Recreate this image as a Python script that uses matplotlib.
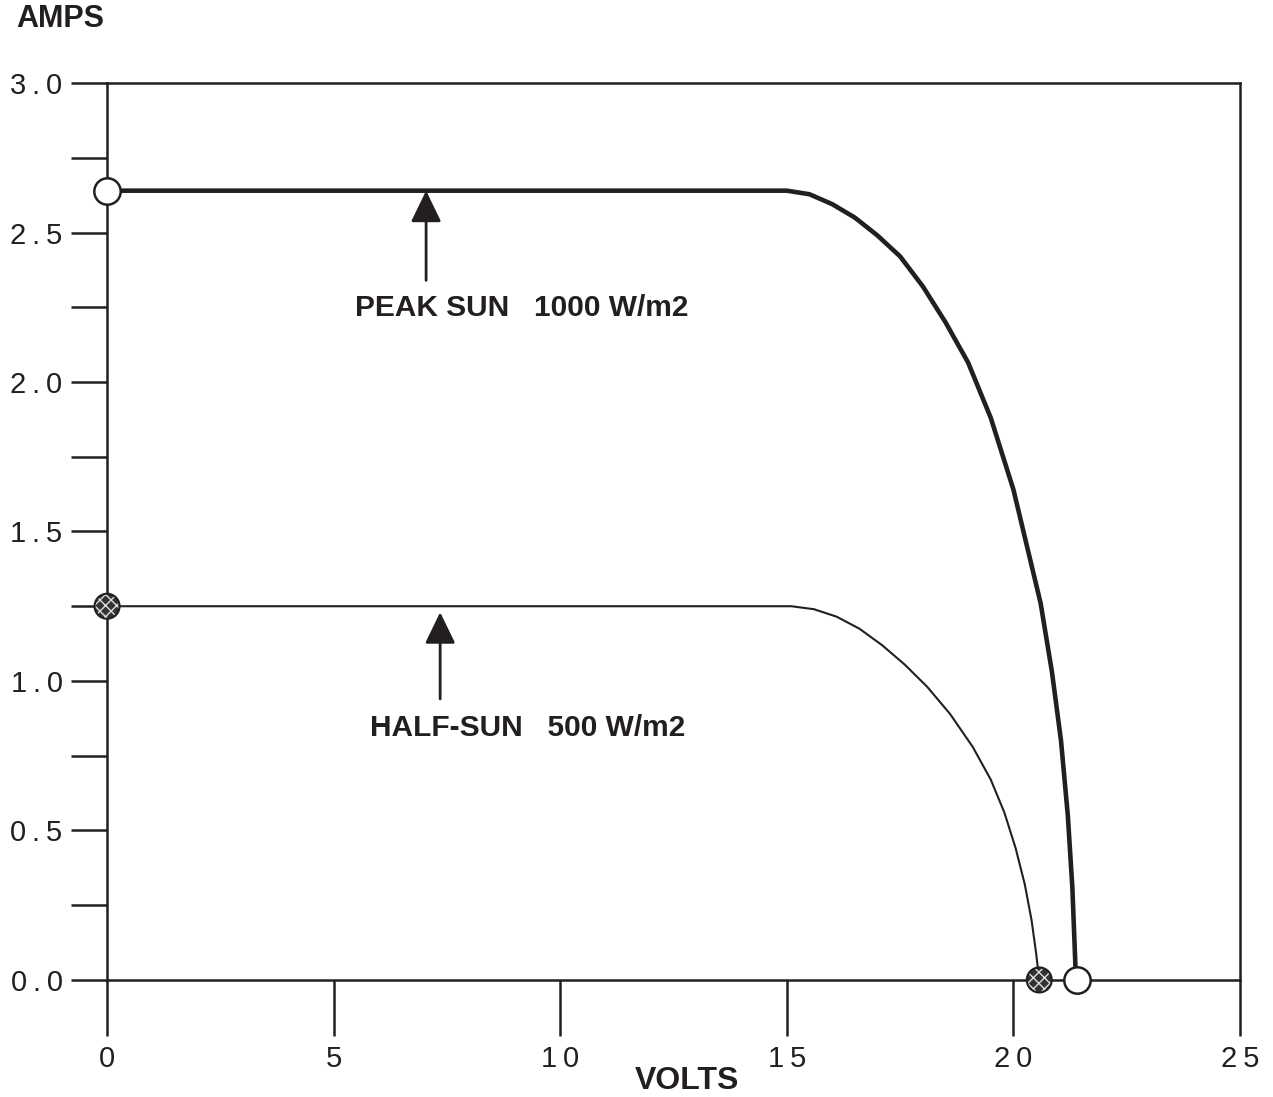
import matplotlib
matplotlib.use("Agg")
import matplotlib.pyplot as plt
import numpy as np

plt.rcParams['font.family'] = ['Liberation Sans', 'DejaVu Sans']

ink = "#231f20"

# I-V curve readings (volts, amps)
peak_v = [0, 15.0, 15.5, 16.0, 16.5, 17.0, 17.5, 18.0, 18.5, 19.0, 19.5, 20.0, 20.3, 20.6,
          20.85, 21.05, 21.2, 21.3, 21.38]
peak_i = [2.64, 2.64, 2.628, 2.595, 2.55, 2.49, 2.42, 2.32, 2.20, 2.065, 1.88, 1.64, 1.45, 1.26,
          1.03, 0.80, 0.55, 0.31, 0.0]

half_v = [0, 15.1, 15.6, 16.1, 16.6, 17.1, 17.6, 18.1, 18.6, 19.1, 19.5, 19.8, 20.05, 20.25,
          20.4, 20.5, 20.57]
half_i = [1.25, 1.25, 1.24, 1.215, 1.175, 1.12, 1.055, 0.98, 0.89, 0.78, 0.67, 0.56, 0.44, 0.32,
          0.2, 0.09, 0.0]

peak_isc, peak_voc = 2.64, 21.4
half_isc, half_voc = 1.25, 20.57

x_ticks = [0, 5, 10, 15, 20, 25]
y_ticks = [0.0, 0.5, 1.0, 1.5, 2.0, 2.5, 3.0]
y_minor = [0.25, 0.75, 1.25, 1.75, 2.25, 2.75]

thin = "\u2009"

fig = plt.figure(figsize=(12.73, 10.97), dpi=100)
ax = fig.add_axes([0.0841, 0.1067, 0.89, 0.8176])

ax.plot(peak_v, peak_i, color=ink, lw=3.3, solid_joinstyle='round', zorder=3)
ax.plot(half_v, half_i, color=ink, lw=1.5, solid_joinstyle='round', zorder=3)

# open circles for peak sun
ax.scatter([0, peak_voc], [peak_isc, 0], s=19**2, facecolor='white', edgecolor=ink,
           linewidth=1.8, zorder=5, clip_on=False)

# patterned circles for half sun
plt.rcParams['hatch.linewidth'] = 1.0
ax.scatter([0, half_voc], [half_isc, 0], s=18**2, facecolor='#333333', edgecolor='#dddddd',
           hatch='xxx', linewidth=0, zorder=5, clip_on=False)
ax.scatter([0, half_voc], [half_isc, 0], s=18**2, facecolor='none', edgecolor=ink,
           linewidth=1.5, zorder=6, clip_on=False)

arrow = dict(arrowstyle='-|>,head_length=0.97,head_width=0.47', mutation_scale=20,
             lw=2, color=ink, shrinkA=0, shrinkB=0)
ax.annotate('', xy=(7.04, peak_isc), xytext=(7.04, 2.34), arrowprops=arrow, zorder=4)
ax.annotate('', xy=(7.35, half_isc - 0.02), xytext=(7.35, 0.94), arrowprops=arrow, zorder=4)

ax.text(5.47, 2.247, "PEAK SUN   1000 W/m2", fontsize=21.5, fontweight='bold',
        color=ink, ha='left', va='center')
ax.text(5.80, 0.843, "HALF-SUN   500 W/m2", fontsize=21.5, fontweight='bold',
        color=ink, ha='left', va='center')

ax.set_xlim(0, 25)
ax.set_ylim(0, 3.0)
ax.set_xticks(x_ticks)
ax.set_xticklabels([thin.join(str(v)) for v in x_ticks])
ax.set_yticks(y_ticks)
ax.set_yticklabels([thin.join(f"{v:.1f}") for v in y_ticks])
ax.set_yticks(y_minor, minor=True)

ax.tick_params(axis='x', direction='out', length=40, width=1.8, color=ink,
               labelsize=21, labelcolor=ink, pad=7)
ax.tick_params(axis='y', which='both', direction='out', length=26, width=1.8, color=ink,
               labelsize=21, labelcolor=ink, pad=6)
for s in ax.spines.values():
    s.set_linewidth(1.8)
    s.set_color(ink)

fig.text(60 / 1273, 1 - 19 / 1097, "AMPS", fontsize=22, fontweight='bold', color=ink,
         ha='center', va='center')
fig.text(687 / 1273, 1 - 1081 / 1097, "VOLTS", fontsize=23, fontweight='bold', color=ink,
         ha='center', va='center')

fig.savefig("out.png", dpi=100)
